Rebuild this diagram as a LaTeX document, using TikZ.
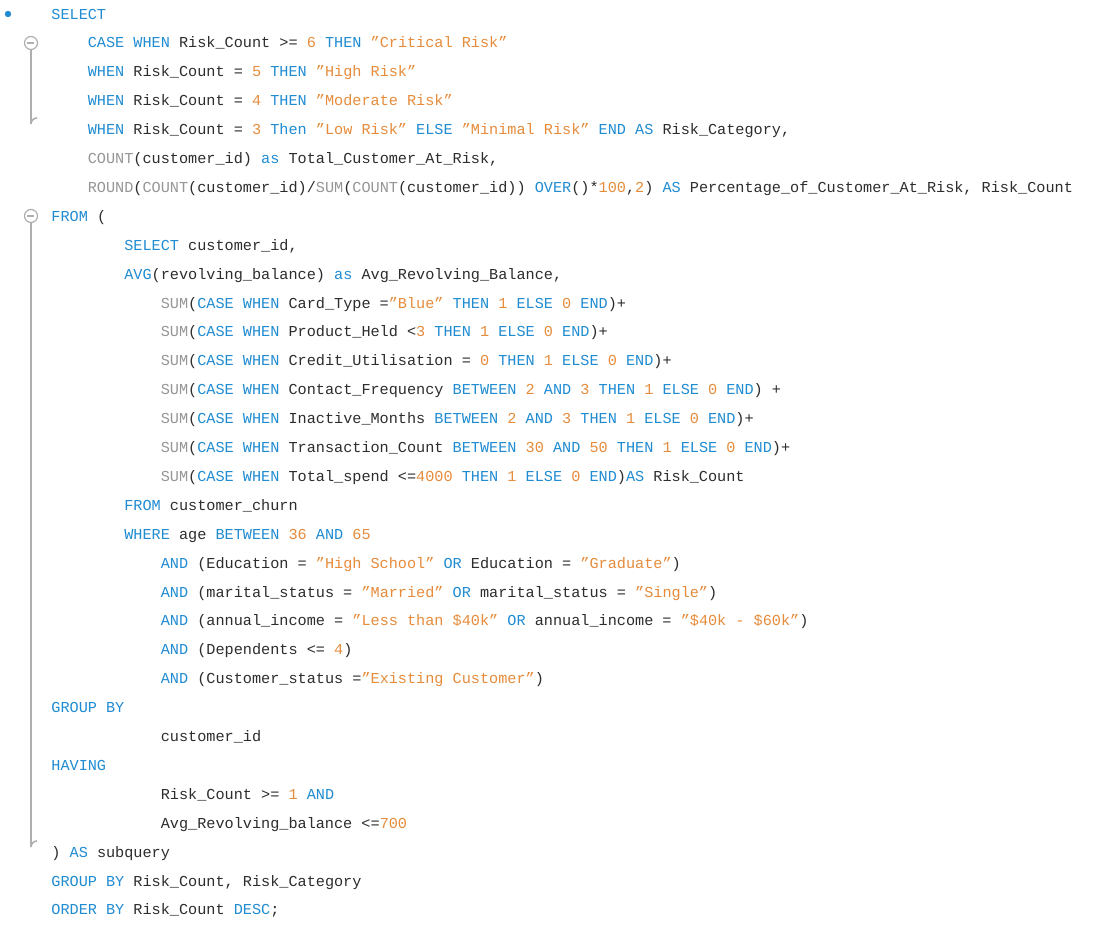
\documentclass[tikz,border=0pt]{standalone}
\usepackage{fontspec}
\setmainfont{Liberation Mono}
\definecolor{kw}{RGB}{32,140,210}
\definecolor{nm}{RGB}{230,140,60}
\definecolor{fnc}{RGB}{150,150,150}
\definecolor{tx}{RGB}{45,45,45}
\definecolor{fold}{RGB}{175,175,175}
\newcommand\KW[1]{\textcolor{kw}{#1}}
\newcommand\NM[1]{\textcolor{nm}{#1}}
\newcommand\FN[1]{\textcolor{fnc}{#1}}
\newcommand\codeline[3]{\node[code] (l#1) at ({51+9.12*#2},{19+28.9*(#1-1)}) {#3};}
\begin{document}
\begin{tikzpicture}[x=0.5pt,y=-0.5pt,
  code/.style={anchor=base west,inner sep=0pt,text=tx,font=\fontsize{7.6pt}{9pt}\selectfont},
  foldc/.style={draw=fold,line width=0.6pt,fill=white,circle,minimum size=6.5pt,inner sep=0pt}]
\useasboundingbox[fill=white] (0,0) rectangle (1100,926);
\codeline{1}{0}{\KW{SELECT}}
\codeline{2}{4}{\KW{CASE WHEN} Risk\_Count >= \NM{6} \KW{THEN} \NM{"Critical Risk"}}
\codeline{3}{4}{\KW{WHEN} Risk\_Count = \NM{5} \KW{THEN} \NM{"High Risk"}}
\codeline{4}{4}{\KW{WHEN} Risk\_Count = \NM{4} \KW{THEN} \NM{"Moderate Risk"}}
\codeline{5}{4}{\KW{WHEN} Risk\_Count = \NM{3} \KW{Then} \NM{"Low Risk"} \KW{ELSE} \NM{"Minimal Risk"} \KW{END AS} Risk\_Category,}
\codeline{6}{4}{\FN{COUNT}(customer\_id) \KW{as} Total\_Customer\_At\_Risk,}
\codeline{7}{4}{\FN{ROUND}(\FN{COUNT}(customer\_id)/\FN{SUM}(\FN{COUNT}(customer\_id)) \KW{OVER}()*\NM{100},\NM{2}) \KW{AS} Percentage\_of\_Customer\_At\_Risk, Risk\_Count}
\codeline{8}{0}{\KW{FROM} (}
\codeline{9}{8}{\KW{SELECT} customer\_id,}
\codeline{10}{8}{\KW{AVG}(revolving\_balance) \KW{as} Avg\_Revolving\_Balance,}
\codeline{11}{12}{\FN{SUM}(\KW{CASE WHEN} Card\_Type =\NM{"Blue"} \KW{THEN} \NM{1} \KW{ELSE} \NM{0} \KW{END})+}
\codeline{12}{12}{\FN{SUM}(\KW{CASE WHEN} Product\_Held <\NM{3} \KW{THEN} \NM{1} \KW{ELSE} \NM{0} \KW{END})+}
\codeline{13}{12}{\FN{SUM}(\KW{CASE WHEN} Credit\_Utilisation = \NM{0} \KW{THEN} \NM{1} \KW{ELSE} \NM{0} \KW{END})+}
\codeline{14}{12}{\FN{SUM}(\KW{CASE WHEN} Contact\_Frequency \KW{BETWEEN} \NM{2} \KW{AND} \NM{3} \KW{THEN} \NM{1} \KW{ELSE} \NM{0} \KW{END}) +}
\codeline{15}{12}{\FN{SUM}(\KW{CASE WHEN} Inactive\_Months \KW{BETWEEN} \NM{2} \KW{AND} \NM{3} \KW{THEN} \NM{1} \KW{ELSE} \NM{0} \KW{END})+}
\codeline{16}{12}{\FN{SUM}(\KW{CASE WHEN} Transaction\_Count \KW{BETWEEN} \NM{30} \KW{AND} \NM{50} \KW{THEN} \NM{1} \KW{ELSE} \NM{0} \KW{END})+}
\codeline{17}{12}{\FN{SUM}(\KW{CASE WHEN} Total\_spend <=\NM{4000} \KW{THEN} \NM{1} \KW{ELSE} \NM{0} \KW{END})\KW{AS} Risk\_Count}
\codeline{18}{8}{\KW{FROM} customer\_churn}
\codeline{19}{8}{\KW{WHERE} age \KW{BETWEEN} \NM{36} \KW{AND} \NM{65}}
\codeline{20}{12}{\KW{AND} (Education = \NM{"High School"} \KW{OR} Education = \NM{"Graduate"})}
\codeline{21}{12}{\KW{AND} (marital\_status = \NM{"Married"} \KW{OR} marital\_status = \NM{"Single"})}
\codeline{22}{12}{\KW{AND} (annual\_income = \NM{"Less than \$40k"} \KW{OR} annual\_income = \NM{"\$40k - \$60k"})}
\codeline{23}{12}{\KW{AND} (Dependents <= \NM{4})}
\codeline{24}{12}{\KW{AND} (Customer\_status =\NM{"Existing Customer"})}
\codeline{25}{0}{\KW{GROUP BY}}
\codeline{26}{12}{customer\_id}
\codeline{27}{0}{\KW{HAVING}}
\codeline{28}{12}{Risk\_Count >= \NM{1} \KW{AND}}
\codeline{29}{12}{Avg\_Revolving\_balance <=\NM{700}}
\codeline{30}{0}{) \KW{AS} subquery}
\codeline{31}{0}{\KW{GROUP BY} Risk\_Count, Risk\_Category}
\codeline{32}{0}{\KW{ORDER BY} Risk\_Count \KW{DESC};}
% markers
\fill[kw] (8,14) circle (3.2);
\draw[fold,line width=0.8pt] (31,49) -- (31,124) arc[start angle=180,end angle=270,radius=6];
\node[foldc] (f1) at (31,43) {};
\draw[fold,line width=0.8pt] (f1.west) ++(3,0) -- ++(7,0);
\draw[fold,line width=0.8pt] (31,222) -- (31,847) arc[start angle=180,end angle=270,radius=6];
\node[foldc] (f2) at (31,216) {};
\draw[fold,line width=0.8pt] (f2.west) ++(3,0) -- ++(7,0);
\end{tikzpicture}
\end{document}
